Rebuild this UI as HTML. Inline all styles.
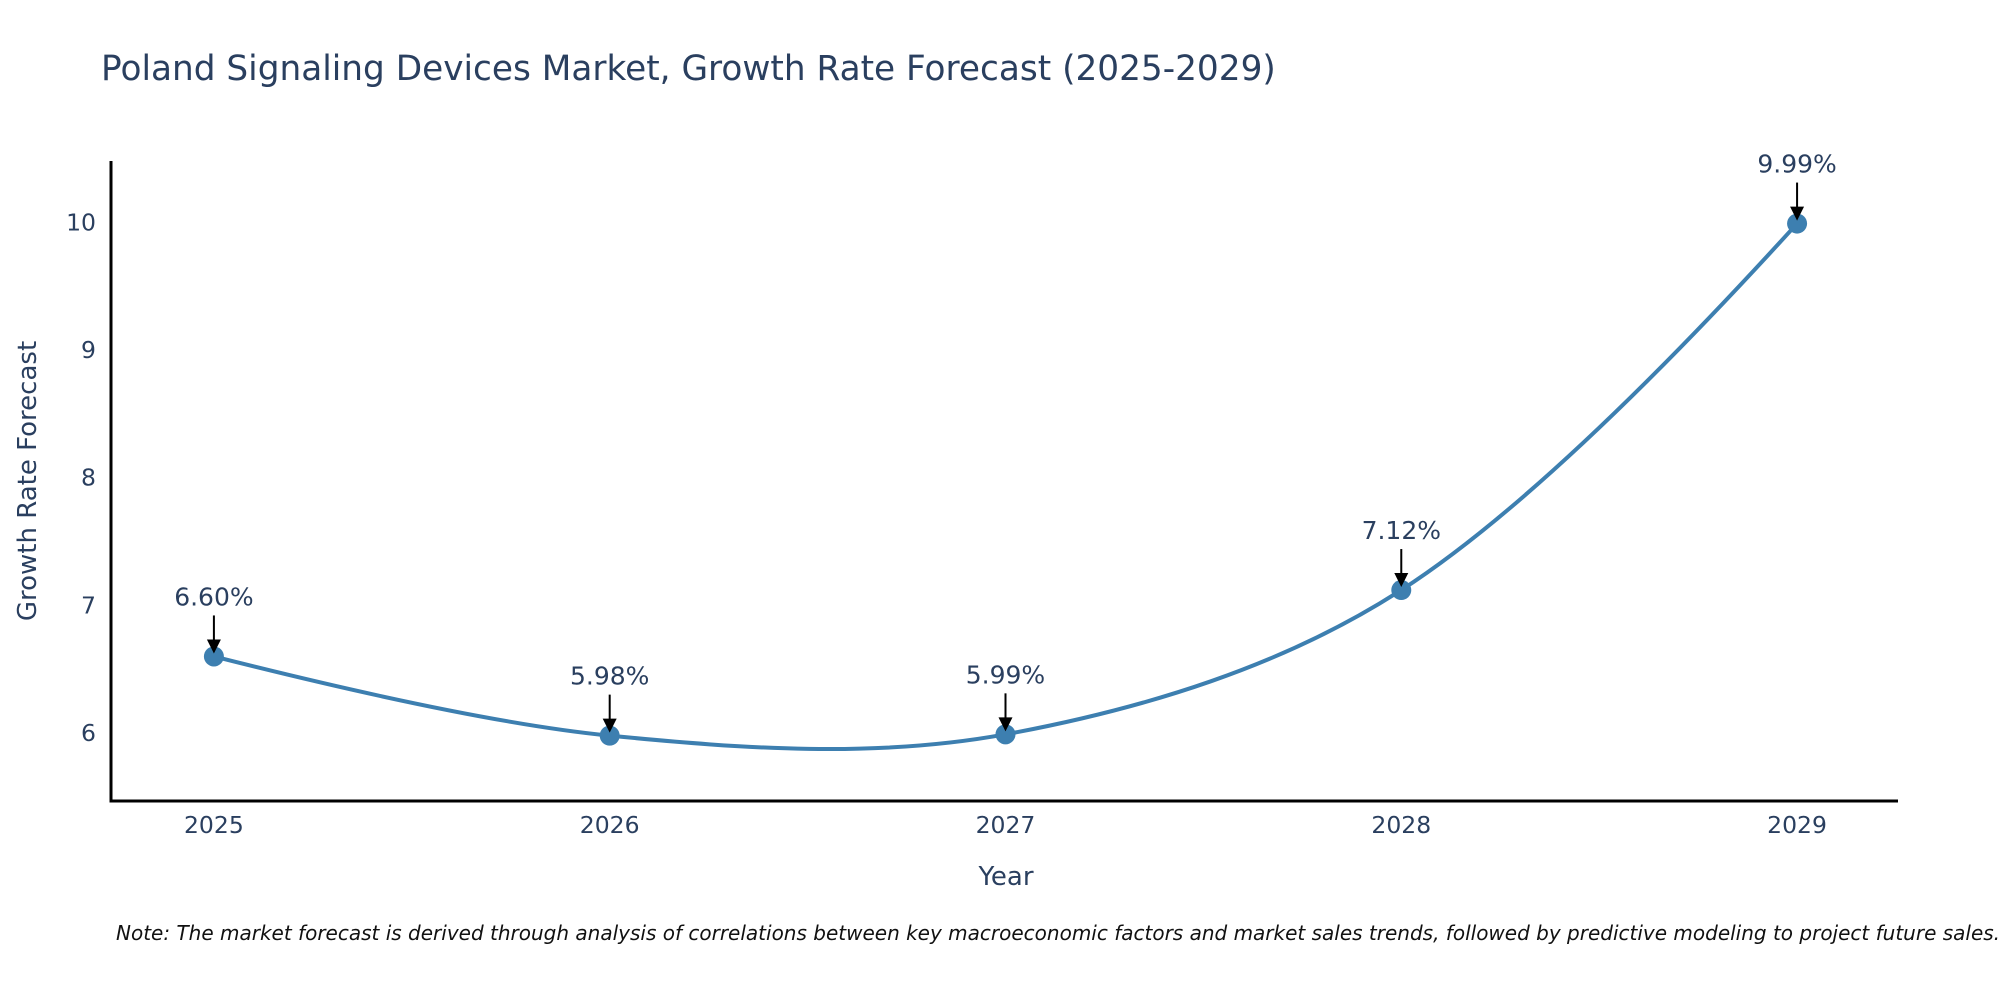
<!DOCTYPE html>
<html><head><meta charset="utf-8"><style>
html,body{margin:0;padding:0;background:#fff;}
svg{display:block;font-family:"DejaVu Sans","Liberation Sans",sans-serif;}
</style></head><body>
<svg id="chart" width="2000" height="1000" viewBox="0 0 2000 1000">
<text x="101" y="80" font-size="34.3" fill="#2a3f5f">Poland Signaling Devices Market, Growth Rate Forecast (2025-2029)</text>
<g id="plot"></g>
<text x="1006" y="885" font-size="26" fill="#2a3f5f" text-anchor="middle">Year</text>
<text transform="translate(36,481) rotate(-90)" font-size="26" fill="#2a3f5f" text-anchor="middle">Growth Rate Forecast</text>
<text x="116" y="940" font-size="20" font-style="italic" fill="#111">Note: The market forecast is derived through analysis of correlations between key macroeconomic factors and market sales trends, followed by predictive modeling to project future sales.</text>
</svg>
<script>
const years = [2025, 2026, 2027, 2028, 2029];
const rates = [6.60, 5.98, 5.99, 7.12, 9.99];
const labels = ["6.60%", "5.98%", "5.99%", "7.12%", "9.99%"];
const yTicks = [6, 7, 8, 9, 10];

const NS = "http://www.w3.org/2000/svg";
const g = document.getElementById("plot");
const X0 = 111, X1 = 1898, YT = 161, YB = 801;
const xMin = 2024.74, xMax = 2029.255;
const yMin = 5.468, yMax = 10.48;
function xs(v){ return X0 + (v - xMin) / (xMax - xMin) * (X1 - X0); }
function ys(v){ return YB - (v - yMin) / (yMax - yMin) * (YB - YT); }
function mk(tag, attrs){ const e = document.createElementNS(NS, tag); for (const k in attrs) e.setAttribute(k, attrs[k]); g.appendChild(e); return e; }

let ax = mk("line", {x1: X0, y1: YT, x2: X0, y2: YB + 1.5, stroke: "#000", "stroke-width": 3});


ax = mk("line", {x1: X0 - 1.5, y1: YB, x2: X1, y2: YB, stroke: "#000", "stroke-width": 3});



yTicks.forEach(t => {
  const e = mk("text", {x: 96, y: ys(t) + 8, "font-size": 23.5, fill: "#2a3f5f", "text-anchor": "end"});
  e.textContent = t;
  
  
});
years.forEach(t => {
  const e = mk("text", {x: xs(t), y: 833, "font-size": 23.5, fill: "#2a3f5f", "text-anchor": "middle"});
  e.textContent = t;
  
  
});

const P = years.map((y, i) => [xs(y), ys(rates[i])]);
const n = P.length;
const cb = [], ca = [];
for (let i = 1; i < n - 1; i++) {
  const p0 = P[i-1], p1 = P[i], p2 = P[i+1];
  const d1 = Math.hypot(p1[0]-p0[0], p1[1]-p0[1]);
  const d2 = Math.hypot(p2[0]-p1[0], p2[1]-p1[1]);
  const dx = p2[0]-p0[0], dy = p2[1]-p0[1];
  const s = 0.34;
  cb[i] = [p1[0] - dx*d1/(d1+d2)*s, p1[1] - dy*d1/(d1+d2)*s];
  ca[i] = [p1[0] + dx*d2/(d1+d2)*s, p1[1] + dy*d2/(d1+d2)*s];
}
let d = `M${P[0][0]},${P[0][1]} Q${cb[1][0]},${cb[1][1]} ${P[1][0]},${P[1][1]}`;
for (let i = 1; i < n - 2; i++) {
  d += ` C${ca[i][0]},${ca[i][1]} ${cb[i+1][0]},${cb[i+1][1]} ${P[i+1][0]},${P[i+1][1]}`;
}
d += ` Q${ca[n-2][0]},${ca[n-2][1]} ${P[n-1][0]},${P[n-1][1]}`;
const line = mk("path", {d: d, fill: "none", stroke: "#3d7fb0", "stroke-width": 4});



P.forEach((p, i) => {
  const c = mk("circle", {cx: p[0], cy: p[1], r: 10, fill: "#3d7fb0"});
  
  
  const a = mk("line", {x1: p[0], y1: p[1] - 41, x2: p[0], y2: p[1] - 14, stroke: "#000", "stroke-width": 2});
  
  
  const h = mk("path", {d: `M${p[0]-7},${p[1]-17} L${p[0]+7},${p[1]-17} L${p[0]},${p[1]-3} Z`, fill: "#000"});
  
  
  const t = mk("text", {x: p[0], y: p[1] - 51, "font-size": 25, fill: "#2a3f5f", "text-anchor": "middle"});
  t.textContent = labels[i];
  
  
});
</script>
</body></html>
